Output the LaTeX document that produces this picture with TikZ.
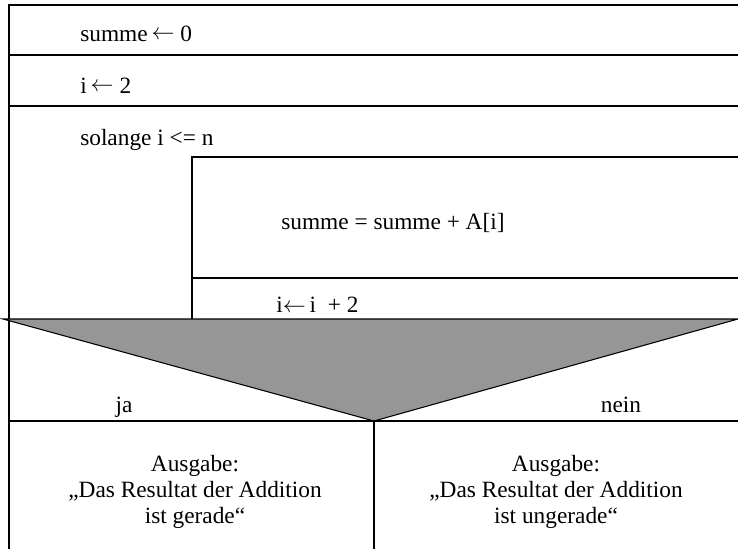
\documentclass[tikz,border=0pt]{standalone}
\usepackage{fontspec}
\setmainfont{Liberation Serif}
\definecolor{triangleGray}{RGB}{150,150,150}

\begin{document}
\begin{tikzpicture}[x=0.75pt, y=-0.75pt]
		\tikzstyle{Line} = [line width=0.8pt, black]
		\tikzstyle{Text} = [anchor=base west, inner sep=0pt, font=\fontsize{17.5}{19.5}\selectfont]
		\tikzstyle{Case} = [anchor=base, inner sep=0pt, font=\fontsize{17.5}{19.5}\selectfont]
		\tikzstyle{Output} = [align=center, inner sep=0pt, font=\fontsize{17.5}{19.5}\selectfont]
		
		\useasboundingbox (0,0) rectangle (738,549);
		
		\draw [Line] (9,549) -- (9,5) -- (738,5);
		\draw [Line] (9,55) -- (738,55);
		\draw [Line] (9,106) -- (738,106);
		\node (summe) [Text] at (80,42) {summe\,\raisebox{2pt}{$\leftarrow$} 0};
		\node (init) [Text] at (80,94) {i\,\raisebox{2pt}{$\leftarrow$} 2};
		\node (loop) [Text] at (80,146) {solange i <= n};
		
		\draw [Line] (738,157) -- (192,157) -- (192,319);
		\draw [Line] (192,278) -- (738,278);
		\node (body) [Text] at (281,229) {summe = summe + A[i]};
		\node (step) [Text] at (276,312) {i$\leftarrow$\,i~ + 2};
		
		\draw [Line, fill=triangleGray] (3,319) -- (738,319) -- (374,421) -- cycle;
		\draw [Line] (9,421) -- (738,421);
		\draw [Line] (374,421) -- (374,549);
		\node (ja) [Case] at (124,412) {ja};
		\node (nein) [Case] at (621,412) {nein};
		
		\node (outja) [Output] at (195,492) {Ausgabe:\\„Das Resultat der Addition\\ist gerade“};
		\node (outnein) [Output] at (556,492) {Ausgabe:\\„Das Resultat der Addition\\ist ungerade“};
\end{tikzpicture}
\end{document}
